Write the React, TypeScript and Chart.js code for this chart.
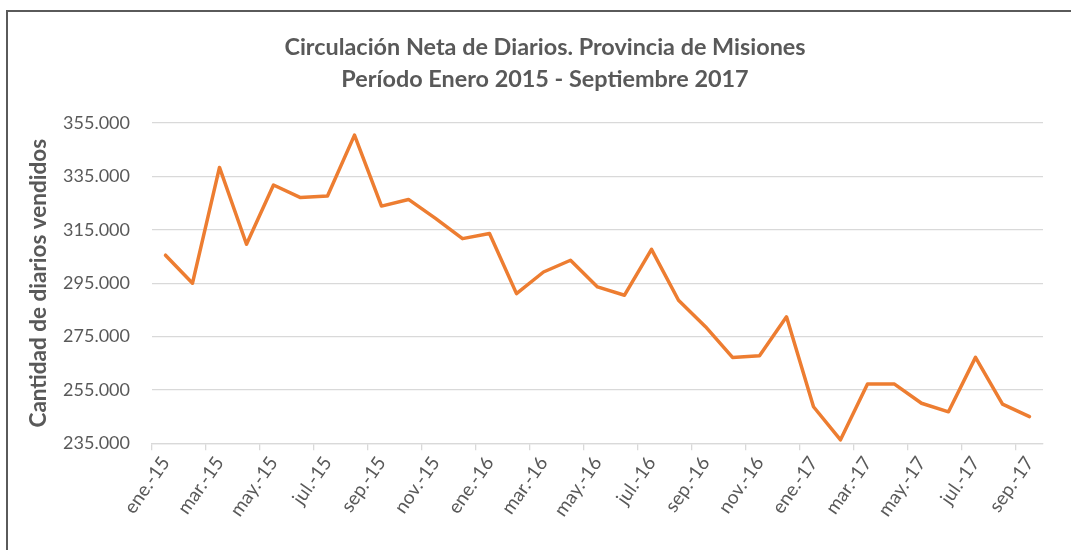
import React, { useEffect, useRef } from "react";
import { Chart, registerables } from "chart.js";

Chart.register(...registerables);

const months = [
  "ene.-15", "feb.-15", "mar.-15", "abr.-15", "may.-15", "jun.-15", "jul.-15", "ago.-15", "sep.-15", "oct.-15", "nov.-15", "dic.-15",
  "ene.-16", "feb.-16", "mar.-16", "abr.-16", "may.-16", "jun.-16", "jul.-16", "ago.-16", "sep.-16", "oct.-16", "nov.-16", "dic.-16",
  "ene.-17", "feb.-17", "mar.-17", "abr.-17", "may.-17", "jun.-17", "jul.-17", "ago.-17", "sep.-17",
];

const circulacion = [
  305500, 295000, 338400, 309600, 331800, 327100, 327700, 350500, 323900, 326400, 319300, 311700,
  313600, 291100, 299200, 303600, 293600, 290500, 307700, 288600, 278700, 267200, 267800, 282400,
  248700, 236300, 257200, 257200, 250000, 246800, 267200, 249700, 245000,
];

const titleLines = [
  "Circulación Neta de Diarios. Provincia de Misiones",
  "Período Enero 2015 - Septiembre 2017",
];
const yAxisTitle = "Cantidad de diarios vendidos";
const yMin = 235000;
const yMax = 355000;
const yStep = 20000;

const TEXT = "#595959";
const GRID = "#d9d9d9";
const LINE = "#ED7D31";
const FONT = "Lato, 'Open Sans', sans-serif";

const fmtThousands = (v: number) => {
  const s = Math.round(v).toString();
  return s.replace(/\B(?=(\d{3})+(?!\d))/g, ".");
};

export default function App() {
  const ref = useRef<HTMLCanvasElement | null>(null);

  useEffect(() => {
    if (!ref.current) return;
    const chart = new Chart(ref.current, {
      type: "line",
      data: {
        labels: months,
        datasets: [
          {
            data: circulacion,
            borderColor: LINE,
            backgroundColor: LINE,
            borderWidth: 3.5,
            pointRadius: 0,
            tension: 0,
            borderJoinStyle: "round",
            borderCapStyle: "round",
          },
        ],
      },
      options: {
        animation: false,
        responsive: false,
        layout: { padding: { left: 47, right: 28, top: 0, bottom: 0 } },
        plugins: {
          legend: { display: false },
          tooltip: { enabled: false },
          title: {
            display: true,
            text: titleLines,
            color: TEXT,
            font: { family: FONT, size: 23.4, weight: "bold", lineHeight: 1.37 },
            padding: { top: 31, bottom: 28 },
          },
        },
        scales: {
          x: {
            type: "category",
            offset: true,
            afterFit: (scale: any) => {
              scale.height = 106.7;
            },
            grid: {
              offset: true,
              drawOnChartArea: false,
              drawTicks: true,
              tickLength: 7,
              color: (ctx: any) => (ctx.index % 2 === 0 ? GRID : "rgba(0,0,0,0)"),
              lineWidth: 1.3,
            },
            border: { display: true, color: GRID, width: 1.3 },
            ticks: {
              autoSkip: false,
              maxRotation: 55,
              minRotation: 55,
              padding: 2,
              color: TEXT,
              font: { family: FONT, size: 19 },
              callback: (_v: any, i: number) => (i % 2 === 0 ? months[i] : ""),
            },
          },
          y: {
            min: yMin,
            max: yMax,
            afterFit: (scale: any) => {
              scale.width = 105;
            },
            border: { display: false },
            grid: { color: GRID, lineWidth: 1.3, drawTicks: false },
            ticks: {
              stepSize: yStep,
              padding: 22,
              color: TEXT,
              font: { family: FONT, size: 18 },
              callback: (v: any) => fmtThousands(Number(v)),
            },
            title: {
              display: true,
              text: yAxisTitle,
              color: TEXT,
              font: { family: FONT, size: 22.5, weight: "bold" },
              padding: { top: -22, bottom: 4 },
            },
          },
        },
      },
    });
    return () => chart.destroy();
  }, []);

  return (
    <div style={{ position: "absolute", left: 0, top: 0, width: 1071, height: 550, background: "#fff", overflow: "hidden" }}>
      <div
        style={{
          position: "absolute",
          left: 6,
          top: 10,
          width: 1071,
          height: 550,
          borderTop: "2px solid #5a5a5a",
          borderLeft: "2px solid #5a5a5a",
          boxSizing: "border-box",
        }}
      />
      <canvas ref={ref} width={1071} height={550} style={{ position: "absolute", left: 0, top: 0 }} />
    </div>
  );
}
